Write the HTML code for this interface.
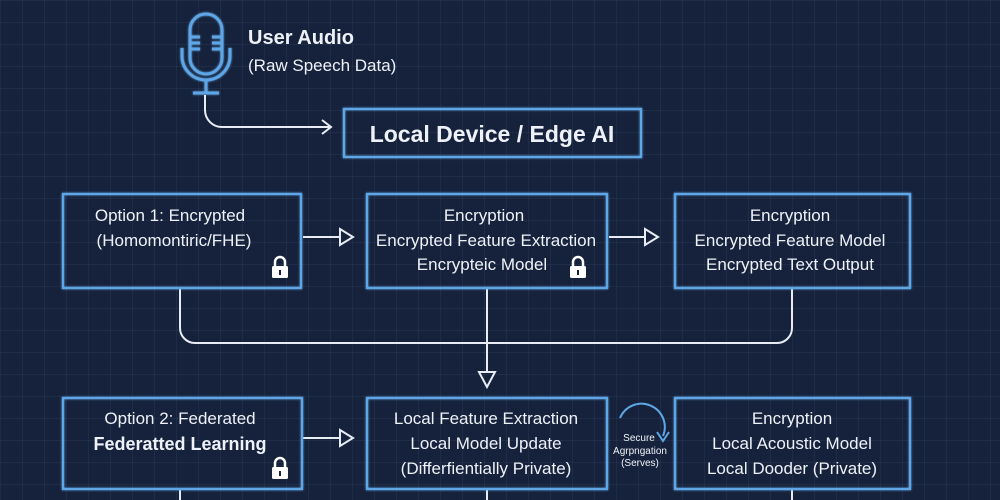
<!DOCTYPE html>
<html><head><meta charset="utf-8"><style>
html,body{margin:0;padding:0;}
body{width:1000px;height:500px;overflow:hidden;background-color:#16223b;
background-image:linear-gradient(rgba(120,150,200,0.09) 1px,transparent 1px),linear-gradient(90deg,rgba(120,150,200,0.09) 1px,transparent 1px);
background-size:22px 22px;font-family:"Liberation Sans",sans-serif;}
svg{position:absolute;left:0;top:0}
text{fill:#eef2f8;font-family:"Liberation Sans",sans-serif}
</style></head><body>
<svg width="1000" height="500" viewBox="0 0 1000 500">
<defs><filter id="g"><feGaussianBlur stdDeviation="1" result="b"/><feMerge><feMergeNode in="b"/><feMergeNode in="SourceGraphic"/></feMerge></filter></defs>
<g stroke="#5ea6e6" stroke-width="3" fill="none" filter="url(#g)">
<rect x="190" y="14" width="32" height="60" rx="16"/>
<path d="M182 48 v8 a24 24 0 0 0 48 0 v-8"/>
<line x1="206" y1="80" x2="206" y2="93"/>
<line x1="193" y1="93" x2="219" y2="93"/>
<line x1="190" y1="37" x2="200" y2="37"/><line x1="190" y1="43" x2="200" y2="43"/><line x1="190" y1="49" x2="200" y2="49"/>
<line x1="212" y1="37" x2="222" y2="37"/><line x1="212" y1="43" x2="222" y2="43"/><line x1="212" y1="49" x2="222" y2="49"/>
</g>
<text x="248" y="44" font-size="20" font-weight="bold">User Audio</text>
<text x="248" y="71" font-size="17">(Raw Speech Data)</text>
<g stroke="#e8edf5" stroke-width="2" fill="none">
<path d="M205 95 V110 a17 17 0 0 0 17 17 H330"/>
<path d="M322 120 L331 127 L322 134"/>
<line x1="303" y1="237" x2="340" y2="237"/><path d="M340 229 L353 237 L340 245 Z"/>
<line x1="609" y1="237" x2="645" y2="237"/><path d="M645 229 L658 237 L645 245 Z"/>
<path d="M180 289 V328 a15 15 0 0 0 15 15 H777 a15 15 0 0 0 15 -15 V289"/>
<line x1="487" y1="289" x2="487" y2="372"/><path d="M479 372 L487 387 L495 372 Z"/>
<line x1="303" y1="438" x2="340" y2="438"/><path d="M340 430 L353 438 L340 446 Z"/>
<line x1="180" y1="490" x2="180" y2="500"/><line x1="487" y1="490" x2="487" y2="500"/><line x1="792" y1="490" x2="792" y2="500"/>
</g>
<g stroke="#5ea6e6" stroke-width="2.2" fill="none" filter="url(#g)">
<rect x="344" y="109" width="297" height="48"/>
<rect x="63" y="194" width="238" height="94"/>
<rect x="367" y="194" width="240" height="94"/>
<rect x="675" y="194" width="235" height="94"/>
<rect x="63" y="398" width="239" height="91"/>
<rect x="367" y="398" width="240" height="91"/>
<rect x="675" y="398" width="235" height="91"/>
</g>
<g stroke="#5ea6e6" stroke-width="2" fill="none"><path d="M620 418 a22 22 0 0 1 43 18"/><path d="M657 432 L663 441 L669 432"/></g>
<text x="492" y="142" font-size="23" font-weight="bold" text-anchor="middle">Local Device / Edge AI</text>
<g font-size="17" text-anchor="middle">
<text x="170" y="221">Option 1: Encrypted</text>
<text x="174" y="246">(Homomontiric/FHE)</text>
<text x="484" y="221">Encryption</text>
<text x="486" y="246">Encrypted Feature Extraction</text>
<text x="482" y="270">Encrypteic Model</text>
<text x="790" y="221">Encryption</text>
<text x="790" y="246">Encrypted Feature Model</text>
<text x="790" y="270">Encrypted Text Output</text>
<text x="180" y="424">Option 2: Federated</text>
<text x="180" y="450" font-weight="bold" font-size="18">Federatted Learning</text>
<text x="486" y="424">Local Feature Extraction</text>
<text x="486" y="449">Local Model Update</text>
<text x="486" y="474">(Differfientially Private)</text>
<text x="792" y="424">Encryption</text>
<text x="792" y="449">Local Acoustic Model</text>
<text x="792" y="474">Local Dooder (Private)</text>
</g>
<g font-size="10" text-anchor="middle"><text x="639" y="441">Secure</text><text x="640" y="454">Agrpngation</text><text x="640" y="466">(Serves)</text></g>
<g fill="#ffffff">
<g transform="translate(272,257)"><path d="M3 9 V5 a5 5 0 0 1 10 0 V9" stroke="#fff" stroke-width="2.5" fill="none"/><rect x="0" y="9" width="16" height="12" rx="1.5"/><rect x="7" y="13" width="2" height="5" fill="#16223b"/></g>
<g transform="translate(570,257)"><path d="M3 9 V5 a5 5 0 0 1 10 0 V9" stroke="#fff" stroke-width="2.5" fill="none"/><rect x="0" y="9" width="16" height="12" rx="1.5"/><rect x="7" y="13" width="2" height="5" fill="#16223b"/></g>
<g transform="translate(272,458)"><path d="M3 9 V5 a5 5 0 0 1 10 0 V9" stroke="#fff" stroke-width="2.5" fill="none"/><rect x="0" y="9" width="16" height="12" rx="1.5"/><rect x="7" y="13" width="2" height="5" fill="#16223b"/></g>
</g>
</svg>
</body></html>
